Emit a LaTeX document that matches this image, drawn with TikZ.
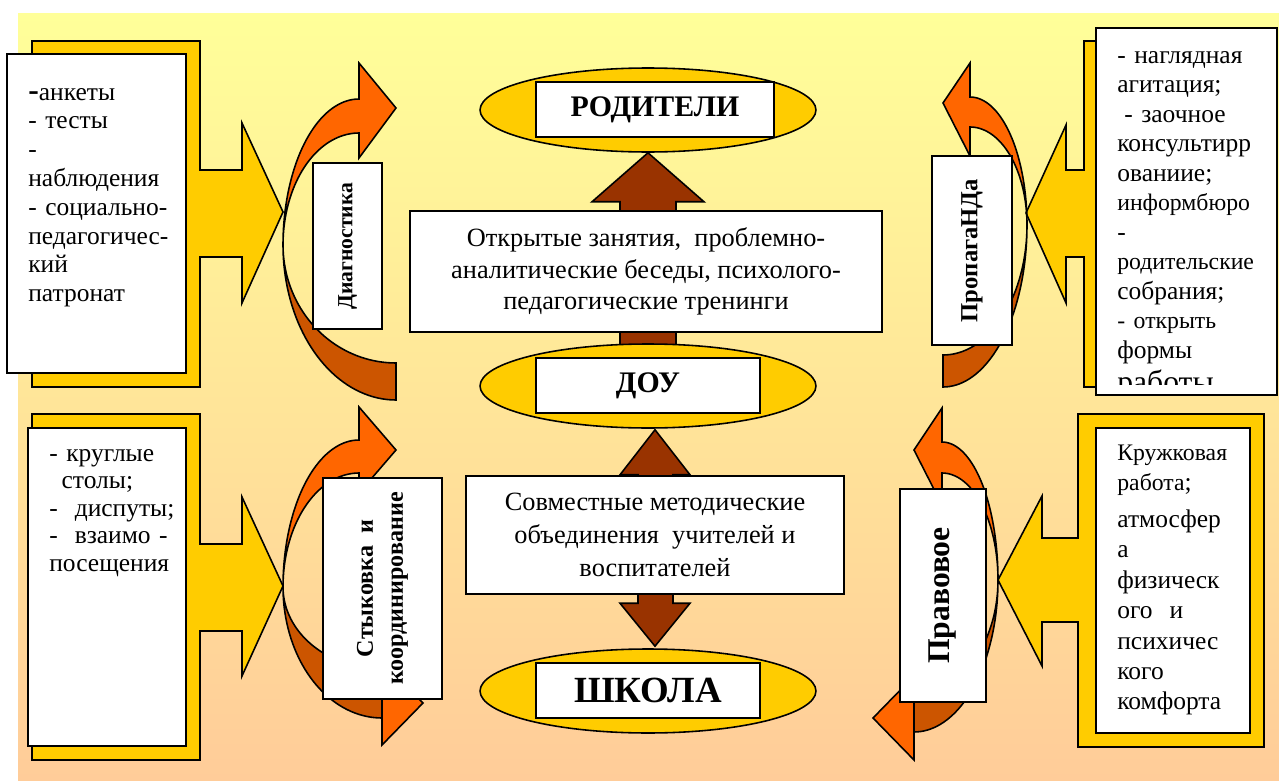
\documentclass[tikz,border=0pt]{standalone}
\usepackage{fontspec}
\setmainfont{Liberation Serif}
\usetikzlibrary{shapes.geometric,calc}
\pgfdeclarelayer{bg}
\pgfdeclarelayer{arr}
\pgfsetlayers{bg,arr,main}
\definecolor{ylw}{HTML}{FFCC00}
\definecolor{orng}{HTML}{FF6600}
\definecolor{dorng}{HTML}{CC5500}
\definecolor{brwn}{HTML}{993300}
\definecolor{bgtop}{HTML}{FFFF99}
\definecolor{bgbot}{HTML}{FFCC99}
\tikzset{
  shp/.style={draw=black, line width=0.9pt, line join=miter},
  ylwshape/.style={shp, fill=ylw},
  orshape/.style={shp, fill=orng},
  dkshape/.style={shp, fill=dorng},
  brshape/.style={shp, fill=brwn},
  wbox/.style={shp, fill=white, rectangle, inner sep=0pt},
  oval/.style={shp, fill=ylw, ellipse, inner sep=0pt, minimum width=6.72cm, minimum height=1.68cm},
  titlebox/.style={wbox, font=\fontsize{17}{20}\selectfont\bfseries},
  lbl/.style={wbox, rotate=90, align=center, font=\fontsize{#1}{17}\selectfont\bfseries},
  listtext/.style={anchor=base west, inner sep=0pt, align=left, text width=4.2cm},
  centertext/.style={wbox, align=center},
}
\begin{document}
\begin{tikzpicture}[x=0.02cm,y=-0.02cm]
\useasboundingbox (0,0) rectangle (1279,781);
\begin{pgfonlayer}{bg}
\fill[white] (0,0) rectangle (1279,781);
\shade[top color=bgtop, bottom color=bgbot] (18,13) rectangle (1279,781);
\end{pgfonlayer}

% yellow callouts
\draw[ylwshape] (32,41) -- (200,41) -- (200,170) -- (242,170) -- (242,123) -- (283,212) -- (242,303) -- (242,257) -- (200,257) -- (200,387) -- (32,387) -- cycle;
\draw[ylwshape] (1270,41) -- (1084,41) -- (1084,170) -- (1066,170) -- (1066,125) -- (1026,213) -- (1066,303) -- (1066,257) -- (1084,257) -- (1084,387) -- (1270,387) -- cycle;
\draw[ylwshape] (32,414) -- (200,414) -- (200,544) -- (242,544) -- (242,497) -- (283,586) -- (242,676) -- (242,631) -- (200,631) -- (200,760) -- (32,760) -- cycle;
\draw[ylwshape] (1264,414) -- (1078,414) -- (1078,538) -- (1042,538) -- (1042,496) -- (998,580) -- (1042,666) -- (1042,622) -- (1078,622) -- (1078,747) -- (1264,747) -- cycle;

% white list boxes
\node[wbox, minimum width=3.58cm, minimum height=6.38cm] (w1) at (96.5,213.5) {};
\node[wbox, minimum width=3.62cm, minimum height=7.34cm] (w2) at (1186.5,211.5) {};
\node[wbox, minimum width=3.16cm, minimum height=6.36cm] (w3) at (107,587) {};
\node[wbox, minimum width=3.08cm, minimum height=6.1cm] (w4) at (1173,580.5) {};

\node[listtext, font=\fontsize{14.5}{16.4}\selectfont] (l1) at (28,100) {{\bfseries\fontsize{18}{18}\selectfont -}анкеты\\
- тесты\\
-\\
наблюдения\\
- социально-\\
педагогичес-\\
кий\\
патронат};

\begin{scope}
\clip (1097,29) rectangle (1276,384);
\node[listtext, font=\fontsize{14.5}{16.8}\selectfont] (l2) at (1117,63) {- наглядная\\
агитация;\\
\hspace*{4pt}- заочное\\
консультирр\\
ованиие;\\
{\fontsize{13.5}{16}\selectfont информбюро}\\
-\\
{\fontsize{13.5}{16}\selectfont родительские}\\
собрания;\\
{\fontsize{13.5}{16}\selectfont - открыть}\\
формы\\[3pt]
{\fontsize{18}{20}\selectfont работы}};
\end{scope}

\node[listtext, font=\fontsize{14.5}{15.7}\selectfont] (l3) at (49,461) {- круглые\\
\hspace*{7pt}столы;\\
-~~диспуты;\\
-~~взаимо -\\
посещения};

\node[listtext, font=\fontsize{14.5}{17.3}\selectfont] (l4) at (1117,460) {{\fontsize{13.5}{17}\selectfont Кружковая}\\
{\fontsize{13.5}{17}\selectfont работа};\\[3.8pt]
атмосфер\\
а\\
физическ\\
ого~~и\\
психичес\\
кого\\
комфорта};

% curved arrows
\draw[dkshape] plot[domain=180:90, samples=40] ({396+113*cos(\x)},{245+155*sin(\x)}) -- plot[domain=90:180, samples=40] ({396+113*cos(\x)},{245+118*sin(\x)}) -- cycle;
\draw[orshape] (359,63) -- (359,99) -- plot[domain=-90:-180, samples=40] ({359+76*cos(\x)},{245+146*sin(\x)}) -- plot[domain=180:270, samples=40] ({359+76*cos(\x)},{245+112*sin(\x)}) -- (359,158) -- (396,108) -- cycle;

\draw[dkshape] plot[domain=0:90, samples=40] ({943+84*cos(\x)},{225+162*sin(\x)}) -- plot[domain=90:0, samples=40] ({943+84*cos(\x)},{225+130*sin(\x)}) -- cycle;
\draw[orshape] (970,63) -- (970,97) -- plot[domain=-90:0, samples=40] ({970+57*cos(\x)},{225+128*sin(\x)}) -- plot[domain=0:-90, samples=40] ({970+57*cos(\x)},{225+98*sin(\x)}) -- (970,156) -- (943,103) -- cycle;

\draw[dkshape] plot[domain=180:90, samples=40] ({382+99*cos(\x)},{587+131*sin(\x)}) -- plot[domain=90:180, samples=40] ({382+99*cos(\x)},{587+82*sin(\x)}) -- cycle;
\draw[orshape] (359,407) -- (359,440) -- plot[domain=-90:-180, samples=40] ({359+76*cos(\x)},{587+147*sin(\x)}) -- plot[domain=180:270, samples=40] ({359+76*cos(\x)},{587+114*sin(\x)}) -- (359,493) -- (396,450) -- cycle;
\draw[orshape] (382,661) -- (423,703) -- (382,745) -- cycle;

\draw[dkshape] plot[domain=0:90, samples=40] ({914+84*cos(\x)},{580+152*sin(\x)}) -- plot[domain=90:0, samples=40] ({914+84*cos(\x)},{580+115*sin(\x)}) -- cycle;
\draw[orshape] (942,408) -- (942,442) -- plot[domain=-90:0, samples=40] ({942+56*cos(\x)},{580+138*sin(\x)}) -- plot[domain=0:-90, samples=40] ({942+56*cos(\x)},{580+107*sin(\x)}) -- (942,505) -- (914,450) -- cycle;
\draw[orshape] (914,676) -- (873,718) -- (914,760) -- cycle;

% label boxes
\node[lbl=12.3, minimum width=3.32cm, minimum height=1.38cm] (lb1) at (347.5,246) {Диагностика};
\node[lbl=14, minimum width=3.78cm, minimum height=1.6cm] (lb2) at (972,250.5) {ПропагаНДа};
\node[lbl=13.7, minimum width=4.42cm, minimum height=2.38cm] (lb3) at (382.5,588.5) {Стыковка~~и\\координирование};
\node[lbl=18, minimum width=4.26cm, minimum height=1.72cm] (lb4) at (943,595.5) {Правовое};

% center column
\node[oval] (par) at (648,110) {};
\node[oval] (dou) at (648,386) {};
\node[oval] (sch) at (648,691) {};
\node[titlebox, minimum width=4.76cm, minimum height=1.1cm] (parbox) at (655,109.5) {РОДИТЕЛИ};
\node[titlebox, minimum width=4.48cm, minimum height=1.1cm] (doubox) at (648,385.5) {ДОУ};
\node[titlebox, minimum width=4.48cm, minimum height=1.1cm, font=\fontsize{21}{24}\selectfont\bfseries] (schbox) at (648,690.5) {ШКОЛА};
\node[centertext, minimum width=9.44cm, minimum height=2.42cm, font=\fontsize{15}{18.1}\selectfont] (t1) at (646,271.5) {Открытые занятия,~ проблемно-\\аналитические беседы, психолого-\\педагогические тренинги};
\node[centertext, minimum width=7.56cm, minimum height=2.36cm, font=\fontsize{15}{19}\selectfont] (t2) at (655,535) {Совместные методические\\объединения~ учителей и\\воспитателей};

\begin{pgfonlayer}{arr}
\draw[brshape] (par.south) -- ($(par.south)+(56,49)$) -- ($(par.south)+(28,49)$) -- ($(dou.north)+(28,15)$) -- ($(dou.north)+(-28,15)$) -- ($(par.south)+(-28,49)$) -- ($(par.south)+(-56,49)$) -- cycle;
\coordinate (b2a) at ($(dou.south)+(7,1)$);
\coordinate (b2b) at ($(sch.north)+(7,-2)$);
\draw[brshape] (b2a) -- ++(35,45) -- ++(-17,0) -- ($(b2b)+(18,-43)$) -- ++(17,0) -- (b2b) -- ++(-35,-43) -- ++(18,0) -- ($(b2a)+(-17,45)$) -- ++(-18,0) -- cycle;
\end{pgfonlayer}
\end{tikzpicture}
\end{document}
